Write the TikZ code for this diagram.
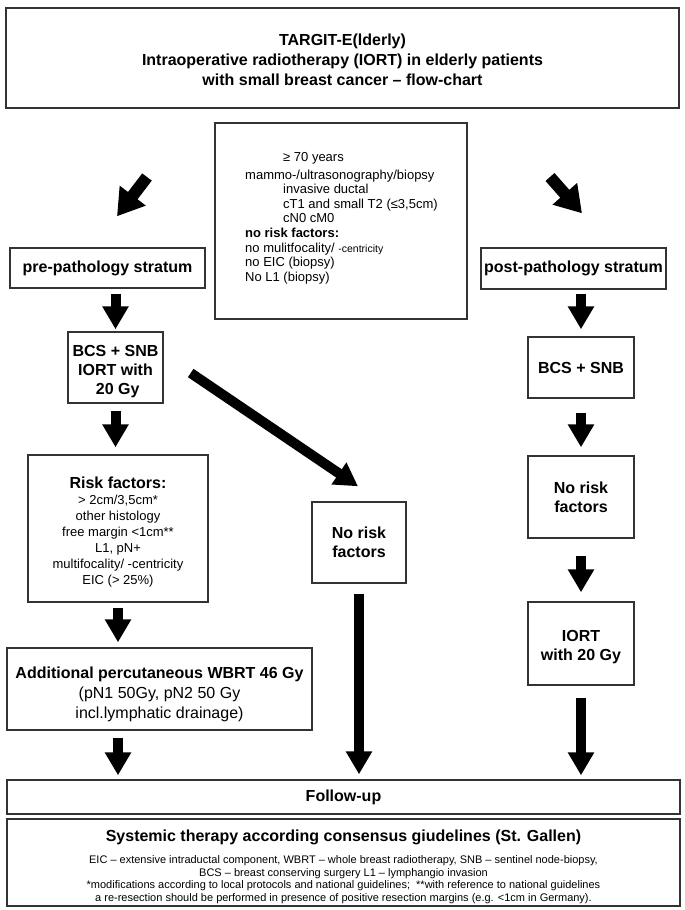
\documentclass[tikz,border=0pt]{standalone}
\usepackage{fontspec}
\setmainfont{Liberation Sans}
\usetikzlibrary{arrows.meta,calc}
\definecolor{boxline}{HTML}{333333}
\newcommand\lift[1]{\rule{0pt}{#1}}
\begin{document}
\begin{tikzpicture}[x=1pt,y=-1pt,
  box/.style={draw=boxline, line width=1.4pt, fill=white, inner sep=0pt, align=center},
  bbig/.style={font=\fontsize{16}{19}\selectfont\bfseries},
  arr/.style={draw=black, line width=10pt, -{Triangle[width=25pt,length=23pt]}},
  arrtop/.style={draw=black, line width=12pt, -{Triangle[width=31pt,length=26pt]}}]
\useasboundingbox (0,0) rectangle (685,910);
\fill[white] (0,0) rectangle (685,910);

% title
\node[box, minimum width=673pt, minimum height=100pt, font=\fontsize{16}{20}\selectfont\bfseries] (title) at (342.5,58)
  {\lift{15.7pt}TARGIT-E(lderly)\\Intraoperative radiotherapy (IORT) in elderly patients\\with small breast cancer – flow-chart};

% criteria
\node[box, minimum width=252pt, minimum height=196pt] (crit) at (341,221) {};
\node[anchor=west, inner sep=0pt, align=left, font=\fontsize{13}{14.6}\selectfont] (crittext) at (245,218)
  {\hspace*{38pt}≥ 70 years\\[3.4pt]
   mammo-/ultrasonography/biopsy\\
   \hspace*{38pt}invasive ductal\\
   \hspace*{38pt}cT1 and small T2 (≤3,5cm)\\
   \hspace*{38pt}cN0 cM0\\
   \textbf{no risk factors:}\\
   no mulitfocality/ {\fontsize{10.5}{14.6}\selectfont -centricity}\\
   no EIC (biopsy)\\
   No L1 (biopsy)};

% left column
\node[box, minimum width=195pt, minimum height=40pt, bbig] (pre) at (107.5,268) {pre-pathology stratum};
\node[box, minimum width=95pt, minimum height=71pt, bbig] (bcsl) at (115.5,367.5) {\lift{19.6pt}BCS + SNB\\IORT with\\\ 20 Gy};
\node[box, minimum width=180pt, minimum height=147pt, font=\fontsize{13}{16}\selectfont] (risk) at (118,528.5)
  {{\fontsize{16}{16}\selectfont\bfseries \lift{19.6pt}Risk factors:}\\
   > 2cm/3,5cm*\\ other histology\\ free margin <1cm**\\ L1, pN+\\ multifocality/ -centricity\\ EIC (> 25\%)};
\node[box, minimum width=305pt, minimum height=82pt, font=\fontsize{16}{20}\selectfont] (wbrt) at (159.5,689)
  {\lift{21.7pt}\textbf{Additional percutaneous WBRT 46 Gy}\\(pN1 50Gy, pN2 50 Gy\\incl.lymphatic drainage)};

% center
\node[box, minimum width=94pt, minimum height=81pt, bbig] (ncen) at (359,542.5) {No risk\\factors};

% right column
\node[box, minimum width=185pt, minimum height=41pt, bbig] (post) at (573.5,268.5) {post-pathology stratum};
\node[box, minimum width=106pt, minimum height=61pt, bbig] (bcsr) at (581,367.5) {BCS + SNB};
\node[box, minimum width=106pt, minimum height=82pt, bbig] (nrr) at (581,497) {No risk\\factors};
\node[box, minimum width=106pt, minimum height=83pt, bbig] (iort) at (581,643.5) {\lift{17.6pt}IORT\\with 20 Gy};

% bottom
\node[box, minimum width=673pt, minimum height=34pt, bbig] (follow) at (343.5,797) {Follow-up};
\node[box, minimum width=673pt, minimum height=87pt] (syst) at (343.5,862.5) {};
\node[anchor=north, inner sep=0pt, align=center, font=\fontsize{11}{12.5}\selectfont] (systtext) at (343.5,830)
  {{\fontsize{16}{16}\selectfont\bfseries Systemic therapy according consensus giudelines (St. Gallen)}\\[9.5pt]
   EIC – extensive intraductal component, WBRT – whole breast radiotherapy, SNB – sentinel node-biopsy,\\
   BCS – breast conserving surgery L1 – lymphangio invasion\\
   *modifications according to local protocols and national guidelines;\ \ **with reference to national guidelines\\
   a re-resection should be performed in presence of positive resection margins (e.g. <1cm in Germany).};

% arrows
\coordinate (lt) at (147,177);
\coordinate (rt) at (550,177);
\draw[arrtop] (lt) -- ([shift={(9.5,-31)}]pre.north);
\draw[arrtop] (rt) -- ([shift={(8.5,-34)}]post.north);

\draw[arr, shorten <=5pt, shorten >=2pt] (bcsl.north |- pre.south) -- (bcsl.north);
\draw[arr, shorten <=7pt, shorten >=7pt] (bcsl.south) -- (bcsl.south |- risk.north);
\draw[arr, shorten <=5pt, shorten >=5pt] (risk.south) -- (risk.south |- wbrt.north);
\draw[arr, shorten <=7pt, shorten >=4pt] (risk.south |- wbrt.south) -- (risk.south |- follow.north);

\draw[arr] ([shift={(27,5.5)}]bcsl.east) -- ([shift={(-1,-15)}]ncen.north);
\draw[arr, shorten <=10pt, shorten >=5pt] (ncen.south) -- (ncen.south |- follow.north);

\draw[arr, shorten <=4pt, shorten >=7pt] (bcsr.north |- post.south) -- (bcsr.north);
\draw[arr, shorten <=14pt, shorten >=8pt] (bcsr.south) -- (nrr.north);
\draw[arr, shorten <=17pt, shorten >=9pt] (nrr.south) -- (iort.north);
\draw[arr, shorten <=12pt, shorten >=4pt] (iort.south) -- (iort.south |- follow.north);
\end{tikzpicture}
\end{document}
